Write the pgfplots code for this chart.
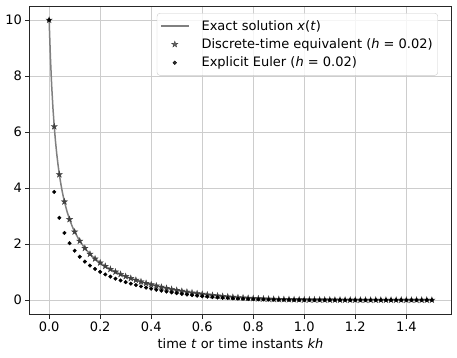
\documentclass[border=0pt]{standalone}
\usepackage{fontspec}
\setmainfont{DejaVu Sans}
\usepackage{pgfplots}
\pgfplotsset{compat=1.18}
\definecolor{gridc}{RGB}{205,205,205}
\definecolor{linec}{RGB}{128,128,128}
\definecolor{starc}{RGB}{64,64,64}
\definecolor{legc}{RGB}{204,204,204}
\pgfdeclareplotmark{fstar}{%
  \pgfpathmoveto{\pgfpointpolar{90}{\pgfplotmarksize}}%
  \pgfpathlineto{\pgfpointpolar{126}{0.382\pgfplotmarksize}}%
  \pgfpathlineto{\pgfpointpolar{162}{\pgfplotmarksize}}%
  \pgfpathlineto{\pgfpointpolar{198}{0.382\pgfplotmarksize}}%
  \pgfpathlineto{\pgfpointpolar{234}{\pgfplotmarksize}}%
  \pgfpathlineto{\pgfpointpolar{270}{0.382\pgfplotmarksize}}%
  \pgfpathlineto{\pgfpointpolar{306}{\pgfplotmarksize}}%
  \pgfpathlineto{\pgfpointpolar{342}{0.382\pgfplotmarksize}}%
  \pgfpathlineto{\pgfpointpolar{18}{\pgfplotmarksize}}%
  \pgfpathlineto{\pgfpointpolar{54}{0.382\pgfplotmarksize}}%
  \pgfpathclose\pgfusepathqfillstroke}
\newcommand{\ff}{\fontsize{13}{15.6}\selectfont}
\pgfplotsset{
  lineleg/.style={legend image code/.code={\draw[##1] (0pt,0pt) -- (28pt,0pt);}},
  markleg/.style={legend image code/.code={\draw[mark repeat=2,mark phase=2,##1] plot coordinates {(0pt,0pt) (14pt,0pt) (28pt,0pt)};}},
}
\pgfplotstableread{
t x
0 10
0.005 8.669
0.01 7.651
0.015 6.847
0.02 6.196
0.025 5.658
0.03 5.206
0.035 4.820
0.04 4.484
0.045 4.195
0.05 3.939
0.055 3.713
0.06 3.511
0.07 3.165
0.08 2.880
0.09 2.640
0.10 2.436
0.12 2.106
0.14 1.850
0.16 1.643
0.18 1.473
0.20 1.330
0.22 1.207
0.24 1.100
0.26 1.005
0.28 0.920
0.30 0.844
0.32 0.775
0.34 0.711
0.36 0.654
0.38 0.600
0.40 0.550
0.42 0.504
0.44 0.461
0.46 0.421
0.48 0.384
0.50 0.349
0.52 0.316
0.54 0.287
0.56 0.259
0.58 0.233
0.60 0.209
0.62 0.187
0.64 0.167
0.66 0.148
0.68 0.131
0.70 0.116
0.72 0.102
0.74 0.089
0.76 0.078
0.78 0.067
0.80 0.058
0.82 0.050
0.84 0.043
0.86 0.037
0.88 0.031
0.90 0.026
0.92 0.022
0.94 0.019
0.96 0.015
0.98 0.013
1.00 0.011
1.02 0.009
1.04 0.007
1.06 0.006
1.08 0.005
1.10 0.004
1.12 0.003
1.14 0.002
1.16 0.002
1.18 0.001
1.20 0.001
1.30 0
1.40 0
1.50 0
}\exacttab
\pgfplotstableread{
t x
0 10
0.02 6.196
0.04 4.484
0.06 3.511
0.08 2.880
0.10 2.436
0.12 2.106
0.14 1.850
0.16 1.643
0.18 1.473
0.20 1.330
0.22 1.207
0.24 1.100
0.26 1.005
0.28 0.920
0.30 0.844
0.32 0.775
0.34 0.711
0.36 0.654
0.38 0.600
0.40 0.550
0.42 0.504
0.44 0.461
0.46 0.421
0.48 0.384
0.50 0.349
0.52 0.316
0.54 0.287
0.56 0.259
0.58 0.233
0.60 0.209
0.62 0.187
0.64 0.167
0.66 0.148
0.68 0.131
0.70 0.116
0.72 0.102
0.74 0.089
0.76 0.078
0.78 0.067
0.80 0.058
0.82 0.050
0.84 0.043
0.86 0.037
0.88 0.031
0.90 0.026
0.92 0.022
0.94 0.019
0.96 0.015
0.98 0.013
1.00 0.011
1.02 0.009
1.04 0.007
1.06 0.006
1.08 0.005
1.10 0.004
1.12 0.003
1.14 0.002
1.16 0.002
1.18 0.001
1.20 0.001
1.22 0
1.24 0
1.26 0
1.28 0
1.30 0
1.32 0
1.34 0
1.36 0
1.38 0
1.40 0
1.42 0
1.44 0
1.46 0
1.48 0
1.50 0
}\startab
\pgfplotstableread{
t x
0 10
0.02 3.860
0.04 2.936
0.06 2.395
0.08 2.029
0.10 1.760
0.12 1.546
0.14 1.373
0.16 1.230
0.18 1.109
0.20 1.005
0.22 0.914
0.24 0.834
0.26 0.762
0.28 0.697
0.30 0.638
0.32 0.584
0.34 0.534
0.36 0.487
0.38 0.444
0.40 0.404
0.42 0.367
0.44 0.333
0.46 0.300
0.48 0.271
0.50 0.244
0.52 0.218
0.54 0.195
0.56 0.173
0.58 0.153
0.60 0.135
0.62 0.118
0.64 0.103
0.66 0.090
0.68 0.078
0.70 0.067
0.72 0.058
0.74 0.049
0.76 0.042
0.78 0.035
0.80 0.030
0.82 0.025
0.84 0.020
0.86 0.017
0.88 0.013
0.90 0.011
0.92 0.009
0.94 0.007
0.96 0.006
0.98 0.004
1.00 0.003
1.02 0.002
1.04 0.002
1.06 0.001
1.08 0.001
1.10 0
1.12 0
1.14 0
1.16 0
1.18 0
1.20 0
1.22 0
1.24 0
1.26 0
1.28 0
1.30 0
1.32 0
1.34 0
1.36 0
1.38 0
1.40 0
1.42 0
1.44 0
1.46 0
1.48 0
1.50 0
}\eulertab
\begin{document}
\begin{tikzpicture}
\useasboundingbox (-30pt,-43pt) rectangle (427pt,314pt);
\begin{axis}[
  at={(0pt,0pt)}, anchor=south west,
  width=421pt, height=308pt, scale only axis,
  xmin=-0.075, xmax=1.575, ymin=-0.5, ymax=10.5,
  xtick={0,0.2,0.4,0.6,0.8,1.0,1.2,1.4},
  ytick={0,2,4,6,8,10},
  xticklabels={0.0,0.2,0.4,0.6,0.8,1.0,1.2,1.4},
  /pgf/number format/assume math mode=true,
  tick label style={font=\ff},
  label style={font=\ff},
  grid=major,
  major grid style={line width=1pt, color=gridc},
  axis line style={line width=1pt, black!85},
  tick style={line width=1pt, black!85},
  major tick length=4.5pt,
  tick align=outside,
  tick pos=left,
  xlabel={time \textit{t} or time instants \textit{kh}},
  legend cell align=left,
  legend style={at={(0.969,0.977)}, anchor=north east, draw=legc,
    rounded corners=3pt, fill=white, fill opacity=0.8, text opacity=1,
    font=\ff, inner xsep=3pt, inner ysep=5pt, row sep=3pt,
    /tikz/column 1/.style={column sep=10pt}},
]
\addplot[linec, line width=1.5pt, no markers, lineleg]
  table[x=t,y=x] {\exacttab};
\addlegendentry{Exact solution \textit{x}(\textit{t})}
\addplot[only marks, mark=fstar, mark size=3.2pt, color=starc, markleg]
  table[x=t,y=x] {\startab};
\addlegendentry{Discrete-time equivalent (\textit{h} = 0.02)}
\addplot[only marks, mark=*, mark size=1.8pt, color=black, markleg]
  table[x=t,y=x] {\eulertab};
\addlegendentry{Explicit Euler (\textit{h} = 0.02)}
\end{axis}
\end{tikzpicture}
\end{document}
